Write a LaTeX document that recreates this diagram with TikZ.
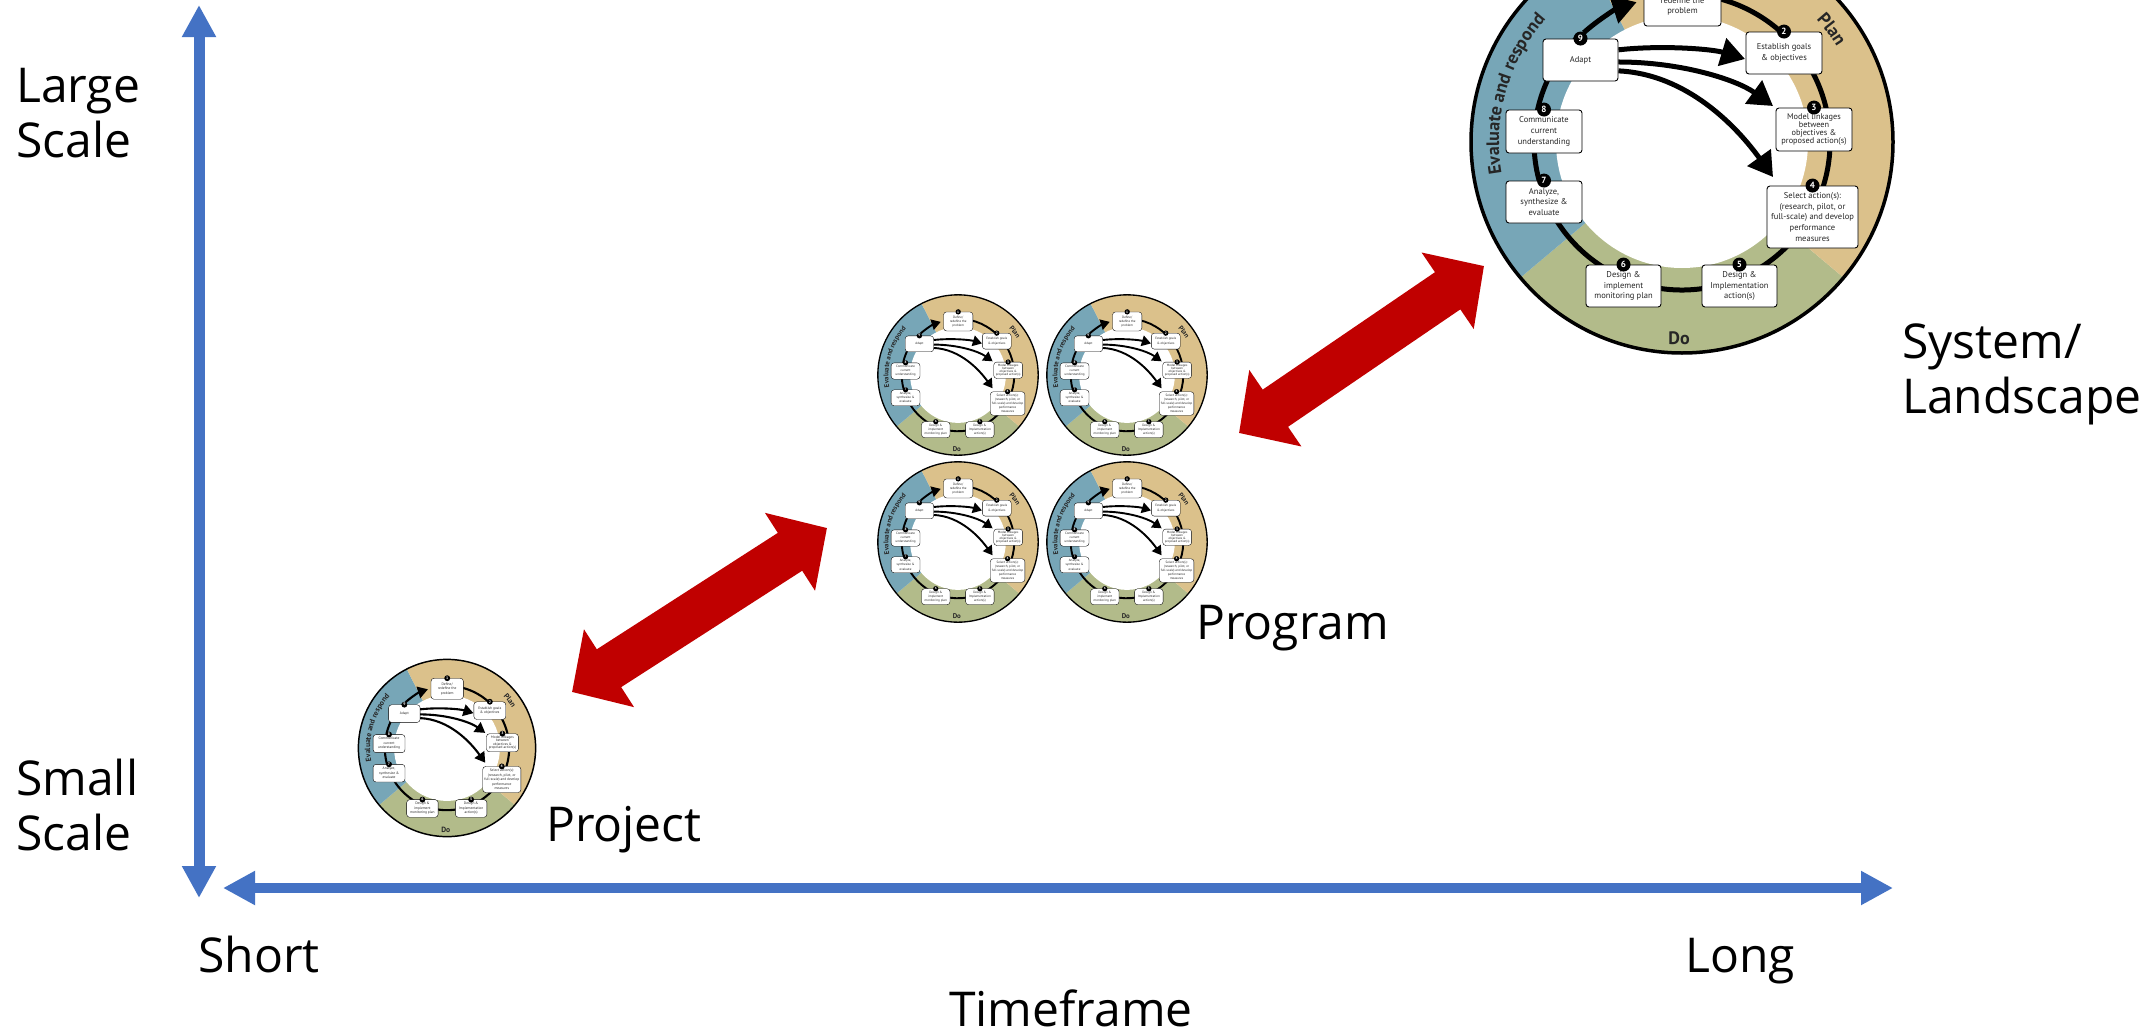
\documentclass[tikz,border=0pt]{standalone}
\usepackage{fontspec}
\setmainfont{Open Sans}
\newfontfamily\ptsans{PT Sans}
\usetikzlibrary{arrows.meta,decorations.text}
\definecolor{axisblue}{HTML}{4472C4}
\definecolor{arrowred}{HTML}{C00000}
\definecolor{evalblue}{HTML}{77A6B7}
\definecolor{plantan}{HTML}{DBC18B}
\definecolor{dogreen}{HTML}{B2BB8A}
\tikzset{
  axisarrow/.style={draw=axisblue, line width=11pt, {Triangle[length=32pt,width=32pt]}-{Triangle[length=32pt,width=32pt]}},
  redarrow/.style={draw=arrowred, line width=45pt, {Triangle[length=44pt,width=90pt]}-{Triangle[length=44pt,width=90pt]}},
  biglabel/.style={font=\fontsize{48}{55}\selectfont, inner sep=0pt, align=left},
  cybox/.style={draw, fill=white, rounded corners=3pt, align=center, inner sep=0pt, text=black!85, font=\ptsans\fontsize{8.5}{10.7}\selectfont},
  numc/.style={circle, fill=black, text=white, inner sep=0pt, minimum size=14pt, font=\ptsans\bfseries\fontsize{9}{9}\selectfont},
  seglabel/.style={font=\ptsans\bfseries\fontsize{18}{18}\selectfont, text=black!85},
}
\newcommand\cyclediagram[4]{%
\begin{scope}[shift={(#2,#3)},scale=#4,transform shape]
\pgfmathsetlengthmacro\cyclw{5pt*#4}%
\pgfmathsetlengthmacro\cycolw{3.5pt*#4}%
\pgfmathsetlengthmacro\cybw{0.9pt*#4}%
\pgfmathsetlengthmacro\cyhl{24pt*#4}%
\pgfmathsetlengthmacro\cyhw{28pt*#4}%
\pgfmathsetmacro\cyfs{18*#4}%
\fill[dogreen] (0,0) -- (40:211) arc[start angle=40,end angle=140,radius=211] -- cycle;
\fill[evalblue] (0,0) -- (140:211) arc[start angle=140,end angle=243,radius=211] -- cycle;
\fill[plantan] (0,0) -- (243:211) arc[start angle=243,end angle=400,radius=211] -- cycle;
\fill[white] (0,0) circle[radius=126];
\draw[line width=\cycolw] (0,0) circle[radius=211];
\draw[line width=\cyclw] (260:148) arc[start angle=260,end angle=585,radius=148];
\draw[line width=\cyclw,-{Triangle[length=\cyhl,width=\cyhw]}] (228:147) arc[start angle=228,end angle=252,radius=147];
% boxes
\node[cybox,line width=\cybw,minimum width=77pt,minimum height=50pt] (#1-b1) at (0.5,-141) {Define/\\redefine the\\problem};
\node[cybox,line width=\cybw,minimum width=76pt,minimum height=42pt] (#1-b2) at (102,-89) {Establish goals\\\& objectives};
\node[cybox,line width=\cybw,minimum width=76pt,minimum height=43pt,font=\ptsans\fontsize{8.3}{8}\selectfont] (#1-b3) at (132,-12.5) {Model linkages\\between\\objectives \&\\proposed action(s)};
\node[cybox,line width=\cybw,minimum width=91pt,minimum height=62pt] (#1-b4) at (130.5,75) {Select action(s):\\(research, pilot, or\\full-scale) and develop\\performance\\measures};
\node[cybox,line width=\cybw,minimum width=75pt,minimum height=42pt] (#1-b5) at (57.5,144) {Design \&\\Implementation\\action(s)};
\node[cybox,line width=\cybw,minimum width=75pt,minimum height=42pt] (#1-b6) at (-58.5,144) {Design \&\\implement\\monitoring plan};
\node[cybox,line width=\cybw,minimum width=76pt,minimum height=42pt] (#1-b7) at (-138,60) {Analyze,\\synthesize \&\\evaluate};
\node[cybox,line width=\cybw,minimum width=76pt,minimum height=43pt] (#1-b8) at (-138,-10.5) {Communicate\\current\\understanding};
\node[cybox,line width=\cybw,minimum width=75pt,minimum height=42pt] (#1-b9) at (-101.5,-82) {Adapt};
\foreach \k in {1,...,9}{\node[numc] (#1-n\k) at (#1-b\k.north) {\k};}
% adapt arrows
\coordinate (#1-t1) at (63,-83);
\coordinate (#1-t2) at (91,-36);
\coordinate (#1-t3) at (91,35);
\draw[line width=\cyclw,-{Triangle[length=\cyhl,width=\cyhw]}] (#1-b9.15) .. controls (-20,-97) and (30,-93) .. (#1-t1);
\draw[line width=\cyclw,-{Triangle[length=\cyhl,width=\cyhw]}] (#1-b9.-3) .. controls (0,-80) and (55,-62) .. (#1-t2);
\draw[line width=\cyclw,-{Triangle[length=\cyhl,width=\cyhw]}] (#1-b9.-16) .. controls (5,-68) and (55,-15) .. (#1-t3);
% segment labels
\path[decorate,decoration={text along path,text align=center,text={|\ptsans\bfseries\fontsize{\cyfs}{\cyfs}\selectfont\color{black!85}|Evaluate and respond}}] (156:183) arc[start angle=156,end angle=236,radius=183];
\path[decorate,decoration={text along path,text align=center,text={|\ptsans\bfseries\fontsize{\cyfs}{\cyfs}\selectfont\color{black!85}|Plan}}] (303:182) arc[start angle=303,end angle=343,radius=182];
\node[seglabel] (#1-do) at (-3,196) {Do};
\end{scope}}
\begin{document}
\begin{tikzpicture}[x=1pt,y=-1pt]
\useasboundingbox (0,0) rectangle (2156,1036);
\clip (0,0) rectangle (2156,1036);
\fill[white] (0,0) rectangle (2156,1036);
% axes
\coordinate (vtop) at (199,5);
\coordinate (vbot) at (199,898);
\coordinate (hleft) at (223,888);
\coordinate (hright) at (1893,888);
\draw[axisarrow] (vbot) -- (vtop);
\draw[axisarrow,line width=10pt] (hleft) -- (hright);
% cycles
\cyclediagram{sys}{1682}{142}{1}
\cyclediagram{pj}{447}{748}{0.42}
\cyclediagram{pa}{958}{375}{0.38}
\cyclediagram{pb}{1127}{375}{0.38}
\cyclediagram{pc}{958}{542}{0.38}
\cyclediagram{pd}{1127}{542}{0.38}
% red arrows
\coordinate (rA1) at (572,692);
\coordinate (rA2) at (827,528);
\coordinate (rB1) at (1239,433);
\coordinate (rB2) at (1484,266);
\draw[redarrow] (rA1) -- (rA2);
\draw[redarrow] (rB1) -- (rB2);
% labels (base anchor = last line)
\node[biglabel, anchor=base west] (large) at (16,157) {Large\\Scale};
\node[biglabel, anchor=base west] (small) at (16,850) {Small\\Scale};
\node[biglabel, anchor=base west] (short) at (198,972) {Short};
\node[biglabel, anchor=base west] (long) at (1685,972) {Long};
\node[biglabel, anchor=base] (tf) at (1071,1026) {Timeframe};
\node[biglabel, anchor=base west] (system) at (1902,413) {System/\\Landscape};
\node[biglabel, anchor=base west] (prog) at (1196,639) {Program};
\node[biglabel, anchor=base west] (proj) at (546,841) {Project};
\end{tikzpicture}
\end{document}
